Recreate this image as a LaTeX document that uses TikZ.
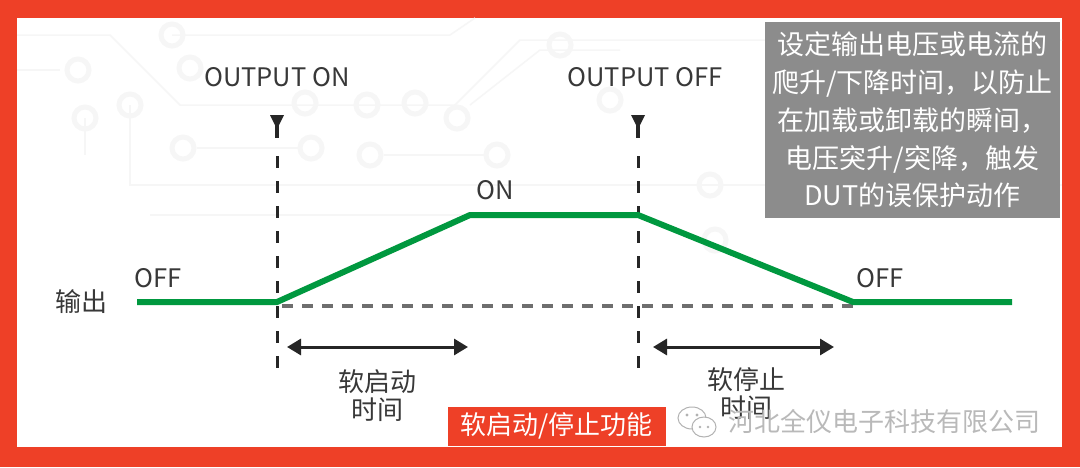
\documentclass[tikz,border=0pt]{standalone}
\usepackage{fontspec}
\setmainfont{Noto Sans CJK SC}
\usetikzlibrary{arrows.meta,calc}
\definecolor{frame}{HTML}{EE4027}
\definecolor{sig}{HTML}{00983F}
\definecolor{txt}{HTML}{383838}
\definecolor{boxgray}{HTML}{8C8C8C}
\definecolor{trace}{HTML}{F6F6F6}
\definecolor{refline}{HTML}{6E6E6E}
\tikzset{
  lbl/.style={text=txt,font=\fontsize{25.5}{28}\selectfont,inner sep=0pt},
  cjk/.style={text=txt,font=\fontsize{26}{31}\selectfont,inner sep=0pt,align=center},
  signal/.style={draw=sig,line width=6pt,line join=miter},
  vdash/.style={draw=black!85,line width=3pt,dash pattern=on 12pt off 13pt},
  hdash/.style={draw=refline,line width=3.5pt,dash pattern=on 11pt off 9pt},
  span/.style={draw=black!85,line width=3pt,{Triangle[length=14pt,width=16pt]}-{Triangle[length=14pt,width=16pt]}},
  marker/.style={fill=black!85},
  pcb/.style={draw=trace,line width=1.5pt},
  pad/.style={draw=trace,line width=5pt}
}
\begin{document}
\begin{tikzpicture}[x=1pt,y=-1pt]
% frame
\fill[frame] (0,0) rectangle (1080,467);
\fill[white] (17,18) rectangle (1062,447);
% faint PCB background
\draw[pcb] (17,35) -- (110,35) -- (180,105) -- (455,105) -- (520,40) -- (1062,40);
\draw[pcb] (17,70) -- (60,70);
\draw[pcb] (172,35) -- (450,35) -- (475,18);
\draw[pcb] (130,105) -- (130,185) -- (1062,185);
\draw[pcb] (150,215) -- (620,215);
\draw[pcb] (85,118) -- (85,155);
\draw[pcb] (197,148) -- (300,148);
\draw[pcb] (384,155) -- (485,155);
\draw[pcb] (470,105) -- (540,50) -- (620,50);
\foreach \p in {(172,35),(78,70),(190,68),(85,118),(130,105),(305,103),(367,105),(415,103),(457,118),(183,148),(311,148),(370,155),(497,155),(560,45),(610,100),(710,185),(715,240)}
  \draw[pad] \p circle (11);
% OUTPUT ON / OFF markers
\node[lbl] (onlbl) at (277,77) {OUTPUT ON};
\node[lbl] (offlbl) at (645,77) {OUTPUT OFF};
\coordinate (onTop) at (277,115);
\coordinate (offTop) at (638,115);
\foreach \c in {onTop,offTop}{
  \fill[marker] ($(\c)+(-7,0)$) -- ($(\c)+(7,0)$) -- ($(\c)+(0,14)$) -- cycle;
  \draw[black!85,line width=3.5pt] ($(\c)+(0,10)$) -- ($(\c)+(0,23)$);
}
\coordinate (onA) at (277,156);
\coordinate (onB) at (277,380);
\coordinate (offA) at (638,156);
\coordinate (offB) at (638,380);
\draw[vdash] (onA) -- (onB);
\draw[vdash] (offA) -- (offB);
% reference dashed line
\coordinate (h1) at (282,306);
\coordinate (h2) at (855,306);
\draw[hdash] (h1) -- (h2);
% signal
\coordinate (s0) at (137,302);
\coordinate (s1) at (277,302);
\coordinate (s2) at (470,215);
\coordinate (s3) at (638,215);
\coordinate (s4) at (853,302);
\coordinate (s5) at (1012,302);
\draw[signal] (s0) -- (s1) -- (s2) -- (s3) -- (s4) -- (s5);
% level labels
\node[lbl] (onstate) at (495,190) {ON};
\node[lbl] (off1) at (158,278) {OFF};
\node[lbl] (off2) at (880,278) {OFF};
\node[cjk] (out) at (81,302) {输出};
% span arrows
\coordinate (a1) at (287,347);
\coordinate (a2) at (468,347);
\coordinate (b1) at (653,347);
\coordinate (b2) at (834,347);
\draw[span] (a1) -- (a2);
\draw[span] (b1) -- (b2);
\node[cjk,font=\fontsize{26}{28}\selectfont] (tstart) at (377,396) {软启动\\时间};
\node[cjk,font=\fontsize{26}{28}\selectfont] (tstop) at (746,394) {软停止\\时间};
% info box
\node[fill=boxgray,text=white,minimum width=295pt,minimum height=196pt,inner sep=0pt,align=center,
      font=\fontsize{27}{37.7}\selectfont] (info) at (912.5,120)
  {设定输出电压或电流的\\爬升/下降时间，以防止\\在加载或卸载的瞬间，\\电压突升/突降，触发\\DUT的误保护动作};
% title tag
\node[fill=frame,text=white,minimum width=218pt,minimum height=39pt,inner sep=0pt,
      font=\fontsize{26}{30}\selectfont] (tag) at (556.5,426) {软启动/停止功能};
% watermark
\begin{scope}[draw=gray!60,line width=1pt,fill=white]
\filldraw (692,418) ellipse (14 and 11);
\filldraw (704,427) ellipse (12 and 10);
\fill[gray!60] (687,415) circle (1.6) (697,415) circle (1.6) (700,427) circle (1.4) (708,427) circle (1.4);
\end{scope}
\node[text=gray!55,font=\fontsize{26}{30}\selectfont,inner sep=0pt] (wm) at (884,421) {河北全仪电子科技有限公司};
\end{tikzpicture}
\end{document}
